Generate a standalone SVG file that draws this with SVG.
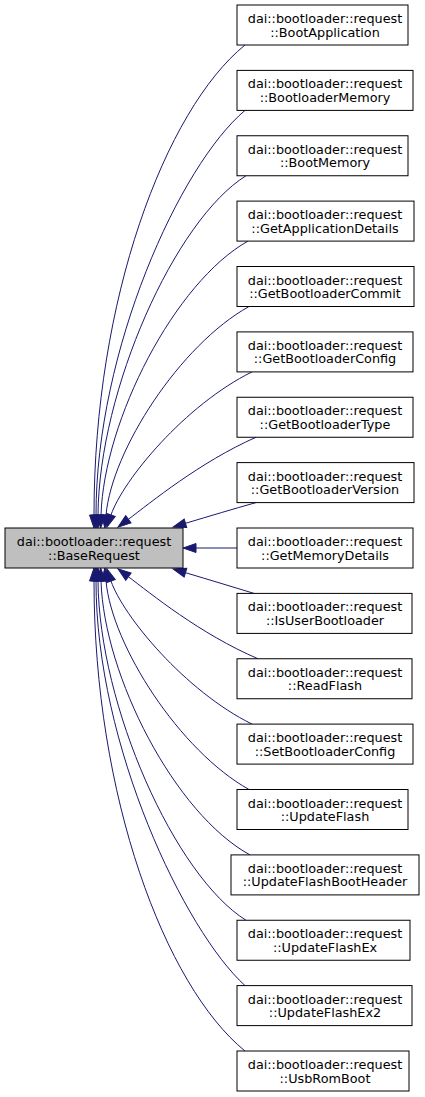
<svg xmlns="http://www.w3.org/2000/svg" width="425" height="1097" viewBox="0 0 425 1097">
<defs>
<style>
.n rect{fill:#ffffff;stroke:#000000;stroke-width:1}
.n.base rect{fill:#bfbfbf}
.n text{font-family:"DejaVu Sans","Liberation Sans",sans-serif;font-size:12.8px;fill:#000000;text-anchor:middle}
#edges path{fill:none;stroke:#191970;stroke-width:1;marker-start:url(#ah)}
</style>
<marker id="ah" markerUnits="userSpaceOnUse" markerWidth="14" markerHeight="10" refX="0" refY="5" orient="auto-start-reverse" viewBox="0 0 14 10" overflow="visible">
<path d="M0,0.5 L13,5 L0,9.5 Z" fill="#191970" stroke="#191970" stroke-width="1"/>
</marker>
</defs>
<rect width="425" height="1097" fill="#ffffff"/>
<g id="edges">
<path d="M94,515 C94,300 165,110 245,45"/>
<path d="M96,515 C96,350 180,165 245,110.4"/>
<path d="M98,515 C99,390 175,220 246,175.75"/>
<path d="M101,515 C104,420 175,282 248,241.1"/>
<path d="M106,515 C112,450 180,345 249,306.5"/>
<path d="M111,515 C123,480 185,405 252,371.9"/>
<path d="M128.4,519.3 C150,503 200,462 256,437.25"/>
<path d="M185.5,523.3 C210,516 233,509 256,502.6"/>
<path d="M196,548 L237,548"/>
<path d="M185.5,572.7 C210,580 233,587 254,593.4"/>
<path d="M128.4,576.7 C150,593 200,634 258,658.75"/>
<path d="M111,581 C123,616 185,691 252,724.1"/>
<path d="M106,581 C112,646 180,751 249,789.5"/>
<path d="M101,581 C104,676 175,814 250,854.9"/>
<path d="M98,581 C99,706 175,876 246,920.25"/>
<path d="M96,581 C96,746 185,931 245,985.6"/>
<path d="M94,581 C94,796 165,986 245,1051"/>
</g>
<g id="BaseRequest" class="n base"><rect x="5" y="528" width="178" height="40"/><text x="94" y="546">dai::bootloader::request</text><text x="94" y="559.5">::BaseRequest</text></g>
<g id="BootApplication" class="n"><rect x="237" y="5" width="171" height="40"/><text x="325" y="23">dai::bootloader::request</text><text x="325" y="36.5">::BootApplication</text></g>
<g id="BootloaderMemory" class="n"><rect x="237" y="70.4" width="176" height="40"/><text x="325" y="88.4">dai::bootloader::request</text><text x="325" y="101.9">::BootloaderMemory</text></g>
<g id="BootMemory" class="n"><rect x="237" y="135.75" width="171" height="40"/><text x="325" y="153.75">dai::bootloader::request</text><text x="325" y="167.25">::BootMemory</text></g>
<g id="GetApplicationDetails" class="n"><rect x="237" y="201.1" width="177" height="40"/><text x="325" y="219.1">dai::bootloader::request</text><text x="325" y="232.6">::GetApplicationDetails</text></g>
<g id="GetBootloaderCommit" class="n"><rect x="237" y="266.5" width="177" height="40"/><text x="325" y="284.5">dai::bootloader::request</text><text x="325" y="298">::GetBootloaderCommit</text></g>
<g id="GetBootloaderConfig" class="n"><rect x="237" y="331.9" width="176" height="40"/><text x="325" y="349.9">dai::bootloader::request</text><text x="325" y="363.4">::GetBootloaderConfig</text></g>
<g id="GetBootloaderType" class="n"><rect x="237" y="397.25" width="176" height="40"/><text x="325" y="415.25">dai::bootloader::request</text><text x="325" y="428.75">::GetBootloaderType</text></g>
<g id="GetBootloaderVersion" class="n"><rect x="237" y="462.6" width="177" height="40"/><text x="325" y="480.6">dai::bootloader::request</text><text x="325" y="494.1">::GetBootloaderVersion</text></g>
<g id="GetMemoryDetails" class="n"><rect x="237" y="528" width="176" height="40"/><text x="325" y="546">dai::bootloader::request</text><text x="325" y="559.5">::GetMemoryDetails</text></g>
<g id="IsUserBootloader" class="n"><rect x="237" y="593.4" width="175" height="40"/><text x="325" y="611.4">dai::bootloader::request</text><text x="325" y="624.9">::IsUserBootloader</text></g>
<g id="ReadFlash" class="n"><rect x="237" y="658.75" width="175" height="40"/><text x="325" y="676.75">dai::bootloader::request</text><text x="325" y="690.25">::ReadFlash</text></g>
<g id="SetBootloaderConfig" class="n"><rect x="237" y="724.1" width="176" height="40"/><text x="325" y="742.1">dai::bootloader::request</text><text x="325" y="755.6">::SetBootloaderConfig</text></g>
<g id="UpdateFlash" class="n"><rect x="237" y="789.5" width="171" height="40"/><text x="325" y="807.5">dai::bootloader::request</text><text x="325" y="821">::UpdateFlash</text></g>
<g id="UpdateFlashBootHeader" class="n"><rect x="231" y="854.9" width="188" height="40"/><text x="325" y="872.9">dai::bootloader::request</text><text x="325" y="886.4">::UpdateFlashBootHeader</text></g>
<g id="UpdateFlashEx" class="n"><rect x="237" y="920.25" width="173" height="40"/><text x="325" y="938.25">dai::bootloader::request</text><text x="325" y="951.75">::UpdateFlashEx</text></g>
<g id="UpdateFlashEx2" class="n"><rect x="237" y="985.6" width="175" height="40"/><text x="325" y="1003.6">dai::bootloader::request</text><text x="325" y="1017.1">::UpdateFlashEx2</text></g>
<g id="UsbRomBoot" class="n"><rect x="237" y="1051" width="172" height="40"/><text x="325" y="1069">dai::bootloader::request</text><text x="325" y="1082.5">::UsbRomBoot</text></g>
</svg>
